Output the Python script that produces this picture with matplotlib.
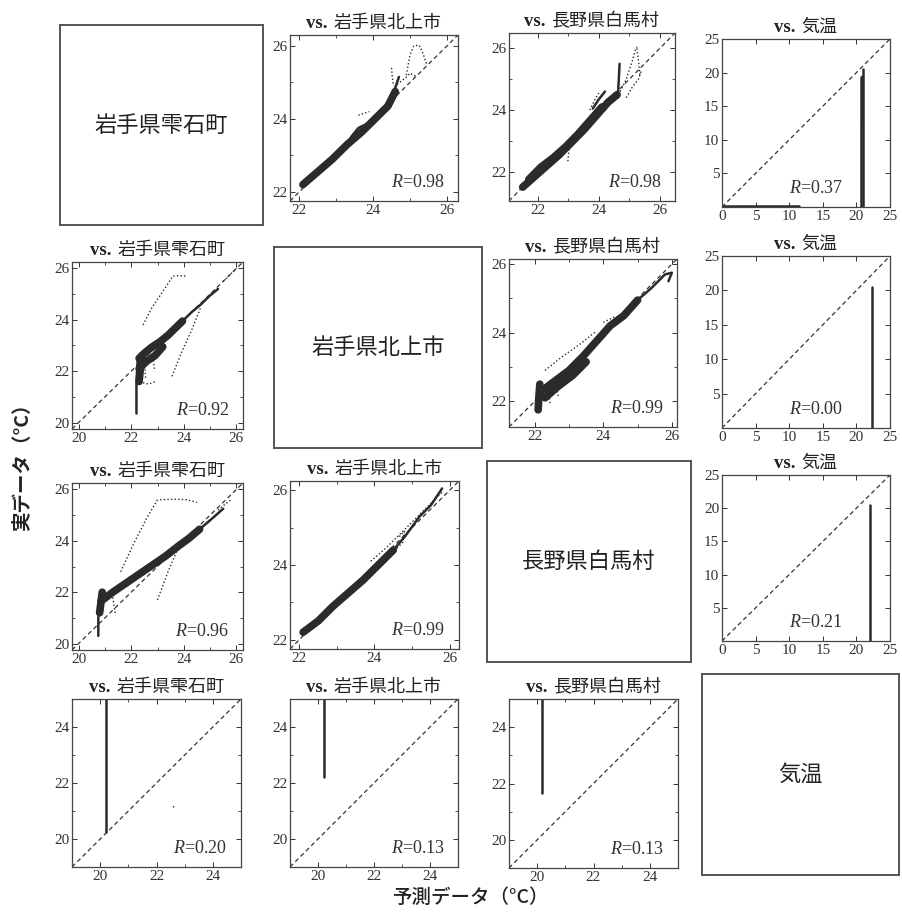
import matplotlib
matplotlib.use('Agg')
import matplotlib.pyplot as plt
from matplotlib.offsetbox import TextArea, HPacker, AnchoredOffsetbox
from matplotlib.ticker import MultipleLocator

plt.rcParams['font.family'] = ['Liberation Serif', 'Noto Sans CJK JP']
plt.rcParams['mathtext.fontset'] = 'custom'
plt.rcParams['mathtext.it'] = 'Liberation Serif:italic'
plt.rcParams['mathtext.rm'] = 'Liberation Serif'
JP = ['Noto Sans CJK JP', 'DejaVu Sans']

W, H = 902, 921
INK = '#2b2b2b'

sites = ['岩手県雫石町', '岩手県北上市', '長野県白馬村', '気温']

# correlation for each (row, col) pair
r_text = {(0, 1): '0.98', (0, 2): '0.98', (0, 3): '0.37',
          (1, 0): '0.92', (1, 2): '0.99', (1, 3): '0.00',
          (2, 0): '0.96', (2, 1): '0.99', (2, 3): '0.21',
          (3, 0): '0.20', (3, 1): '0.13', (3, 2): '0.13'}

# axis ranges
lim_01 = [21.75, 26.3]
lim_02 = [21.05, 26.5]
lim_03 = [0, 25]
lim_10 = [19.75, 26.25]
lim_12 = [21.25, 26.15]
lim_13 = [0, 25]
lim_20 = [19.75, 26.25]
lim_21 = [21.75, 26.25]
lim_23 = [0, 25]
lim_30 = [19, 25]
lim_31 = [19, 25]
lim_32 = [19, 25]

# traced clouds: dense parts ("band"), thinner runs ("thin"), sparse dots ("dots")
band_01 = [([22.1, 22.5, 22.9, 23.3, 23.7, 24.1, 24.4, 24.6],
            [22.2, 22.55, 22.9, 23.3, 23.65, 24.05, 24.35, 24.75])]
thin_01 = [([24.4, 24.55, 24.7], [24.35, 24.7, 25.15]),
           ([23.4, 23.6, 23.8], [23.5, 23.75, 23.85])]
dots_01 = [([24.5, 24.52, 24.55], [25.4, 25.15, 24.9]),
           ([24.9, 25.0, 25.1, 25.25, 25.35, 25.45], [25.2, 25.75, 26.0, 26.02, 25.8, 25.5]),
           ([24.65, 24.85, 25.0, 25.2], [24.95, 25.1, 25.25, 25.15]),
           ([23.6, 23.75, 23.9], [24.1, 24.15, 24.2])]

band_02 = [([21.5, 21.9, 22.3, 22.7, 23.1, 23.5, 23.9, 24.3, 24.6],
            [21.5, 21.85, 22.2, 22.55, 22.95, 23.35, 23.8, 24.25, 24.5]),
           ([21.7, 22.1, 22.5, 22.9, 23.3, 23.7, 24.1],
            [21.75, 22.15, 22.45, 22.8, 23.2, 23.65, 24.1])]
thin_02 = [([24.62, 24.65, 24.68], [24.4, 24.9, 25.5]),
           ([23.8, 24.0, 24.2], [24.05, 24.35, 24.6])]
dots_02 = [([24.7, 24.9, 25.1, 25.2, 25.25], [24.6, 25.0, 25.6, 25.95, 26.05]),
           ([25.25, 25.3, 25.35], [26.0, 25.6, 25.1]),
           ([24.9, 25.1, 25.3, 25.4], [24.4, 24.75, 25.0, 25.3]),
           ([23.05, 23.0, 22.98], [22.85, 22.55, 22.3]),
           ([23.7, 23.9, 24.0], [24.0, 24.4, 24.55])]

band_03 = []
thin_03 = [([20.7, 20.7], [0, 19.3]), ([21.0, 21.0], [0, 20.5]),
           ([20.85, 20.85], [12.5, 19.5]), ([0, 11.5], [0.1, 0.1])]
dots_03 = []

band_10 = [([22.3, 22.5, 22.8, 23.1, 23.4, 23.7, 23.95],
            [22.5, 22.7, 22.95, 23.15, 23.4, 23.7, 23.95]),
           ([22.3, 22.6, 22.9, 23.2], [22.1, 22.4, 22.6, 22.95]),
           ([22.3, 22.35, 22.4], [21.6, 22.1, 22.6])]
thin_10 = [([22.2, 22.2, 22.25], [20.35, 21.5, 22.5]),
           ([23.95, 24.3, 24.65, 25.0, 25.3], [23.95, 24.3, 24.6, 24.95, 25.2])]
dots_10 = [([22.45, 22.8, 23.2, 23.55], [23.8, 24.5, 25.1, 25.65]),
           ([23.6, 23.8, 24.1], [25.7, 25.72, 25.7]),
           ([23.55, 23.9, 24.3, 24.65], [21.8, 22.7, 23.6, 24.5]),
           ([22.45, 22.65, 22.95], [21.55, 21.5, 21.6]),
           ([25.5, 25.8, 26.0], [25.5, 25.8, 26.0]),
           ([22.5, 22.55], [22.5, 21.7]),
           ([22.8, 22.9], [22.7, 22.0])]

band_12 = [([22.1, 22.12, 22.15], [21.75, 22.1, 22.5]),
           ([22.2, 22.6, 23.0, 23.4, 23.8, 24.2, 24.6, 25.0],
            [22.3, 22.6, 22.9, 23.3, 23.75, 24.2, 24.5, 24.95]),
           ([22.3, 22.7, 23.1, 23.5], [22.1, 22.45, 22.75, 23.15])]
thin_12 = [([25.0, 25.4, 25.8, 26.0, 25.9], [24.95, 25.3, 25.7, 25.75, 25.5])]
dots_12 = [([22.3, 22.8, 23.3, 23.8], [22.9, 23.3, 23.65, 24.05]),
           ([24.0, 24.3, 24.6], [24.3, 24.45, 24.5]),
           ([22.4, 22.45], [22.3, 21.9]),
           ([22.6, 22.7], [22.5, 22.1])]

band_13 = []
thin_13 = [([22.3, 22.3], [0, 20.5])]
dots_13 = []

band_20 = [([20.85, 21.3, 21.8, 22.3, 22.8, 23.3, 23.8, 24.2, 24.6],
            [21.65, 22.0, 22.35, 22.7, 23.05, 23.4, 23.8, 24.1, 24.45]),
           ([20.8, 20.85, 20.9], [21.2, 21.6, 22.0])]
thin_20 = [([20.75, 20.75, 20.8], [20.3, 21.0, 21.6]),
           ([24.6, 25.0, 25.5], [24.45, 24.8, 25.25])]
dots_20 = [([21.6, 22.1, 22.6, 23.0], [22.8, 23.9, 24.9, 25.6]),
           ([23.1, 23.6, 24.1, 24.5], [25.6, 25.62, 25.6, 25.5]),
           ([23.0, 23.4, 23.9], [21.7, 22.8, 24.0]),
           ([21.3, 21.4], [21.8, 21.1]),
           ([25.3, 25.6, 25.8], [25.2, 25.45, 25.6])]

band_21 = [([22.1, 22.5, 22.9, 23.3, 23.7, 24.1, 24.5],
            [22.2, 22.5, 22.9, 23.25, 23.6, 24.0, 24.4])]
thin_21 = [([24.5, 24.8, 25.2, 25.5, 25.8], [24.4, 24.75, 25.3, 25.6, 26.05])]
dots_21 = [([23.9, 24.3, 24.7, 25.1, 25.5, 25.8], [24.1, 24.45, 24.85, 25.25, 25.65, 25.95]),
           ([24.6, 24.75, 24.8, 24.65], [24.45, 24.6, 24.9, 24.75])]

band_23 = []
thin_23 = [([22.0, 22.0], [0, 20.5])]
dots_23 = []

band_30 = []
thin_30 = [([20.22, 20.22], [20.25, 25.0])]
dots_30 = [([22.6, 22.6], [21.15, 21.25])]

band_31 = []
thin_31 = [([20.2, 20.2], [22.2, 25.0])]
dots_31 = []

band_32 = []
thin_32 = [([20.18, 20.18], [21.67, 25.0])]
dots_32 = []

panels = {
    (0, 1): (lim_01, band_01, thin_01, dots_01),
    (0, 2): (lim_02, band_02, thin_02, dots_02),
    (0, 3): (lim_03, band_03, thin_03, dots_03),
    (1, 0): (lim_10, band_10, thin_10, dots_10),
    (1, 2): (lim_12, band_12, thin_12, dots_12),
    (1, 3): (lim_13, band_13, thin_13, dots_13),
    (2, 0): (lim_20, band_20, thin_20, dots_20),
    (2, 1): (lim_21, band_21, thin_21, dots_21),
    (2, 3): (lim_23, band_23, thin_23, dots_23),
    (3, 0): (lim_30, band_30, thin_30, dots_30),
    (3, 1): (lim_31, band_31, thin_31, dots_31),
    (3, 2): (lim_32, band_32, thin_32, dots_32),
}

# pixel boxes (left, top, right, bottom)
ax_px = {
    (0, 1): (290, 35, 458, 201), (0, 2): (509, 33, 675, 201), (0, 3): (722, 39, 890, 207),
    (1, 0): (72, 262, 243, 429), (1, 2): (509, 259, 677, 427), (1, 3): (722, 256, 890, 428),
    (2, 0): (72, 483, 243, 650), (2, 1): (290, 481, 459, 649), (2, 3): (722, 475, 890, 641),
    (3, 0): (72, 699, 241, 867), (3, 1): (290, 699, 458, 867), (3, 2): (509, 699, 678, 868),
}
box_px = {0: (60, 25, 263, 225), 1: (274, 247, 482, 448),
          2: (487, 461, 691, 662), 3: (702, 674, 899, 875)}


def rect(px):
    l, t, r, b = px
    return [l / W, 1 - b / H, (r - l) / W, (b - t) / H]


def panel_title(ax, name):
    vs = TextArea('vs.', textprops=dict(family='Liberation Serif', weight='bold', size=13.5, color='#222'))
    nm = TextArea(name, textprops=dict(family=JP, size=13, color='#222'))
    pack = HPacker(children=[vs, nm], align='baseline', pad=0, sep=4)
    anc = AnchoredOffsetbox(loc='lower center', child=pack, frameon=False,
                            bbox_to_anchor=(0.5, 1.0), bbox_transform=ax.transAxes,
                            borderpad=0.2, pad=0)
    ax.add_artist(anc)


fig = plt.figure(figsize=(W / 100, H / 100), dpi=100)

for (i, j), (lim, band, thin, dots) in panels.items():
    ax = fig.add_axes(rect(ax_px[(i, j)]))
    ax.plot(lim, lim, ls=(0, (3.5, 2.5)), color='#333', lw=0.9)
    for xs, ys in band:
        ax.plot(xs, ys, color=INK, lw=5.5, solid_capstyle='round', solid_joinstyle='round')
    for xs, ys in thin:
        ax.plot(xs, ys, color=INK, lw=1.8, solid_capstyle='round')
    for xs, ys in dots:
        ax.plot(xs, ys, color=INK, lw=1.0, ls=(0, (1, 1.6)))
    ax.set_xlim(lim)
    ax.set_ylim(lim)
    air = lim[0] == 0
    if air:
        ax.xaxis.set_major_locator(MultipleLocator(5))
        ax.set_yticks([5, 10, 15, 20, 25])
    else:
        ax.xaxis.set_major_locator(MultipleLocator(2))
        ax.yaxis.set_major_locator(MultipleLocator(2))
        ax.xaxis.set_minor_locator(MultipleLocator(1))
        ax.yaxis.set_minor_locator(MultipleLocator(1))
    ax.tick_params(which='both', direction='in', top=True, right=True,
                   labelsize=11, colors='#333', pad=2)
    ax.tick_params(which='major', length=3.5, width=0.7)
    ax.tick_params(which='minor', length=2, width=0.6)
    for s in ax.spines.values():
        s.set_color('#444')
        s.set_linewidth(0.9)
    ax.text(0.72 if air else 0.92, 0.06, '$R$=' + r_text[(i, j)], transform=ax.transAxes,
            ha='right', va='bottom', fontsize=13, color='#333',
            family='Liberation Serif')
    panel_title(ax, sites[j])

for k, px in box_px.items():
    ax = fig.add_axes(rect(px))
    ax.set_xticks([])
    ax.set_yticks([])
    for s in ax.spines.values():
        s.set_color('#555')
        s.set_linewidth(1.4)
    ax.text(0.5, 0.5, sites[k], transform=ax.transAxes, ha='center', va='center',
            fontsize=16, family=JP, color='#222')

fig.text(22 / W, 1 - 462 / H, '実データ（°C）', rotation=90, ha='center', va='center',
         fontsize=14, family=JP, weight='bold', color='#222')
fig.text(470 / W, 1 - 897 / H, '予測データ（°C）', ha='center', va='center',
         fontsize=14, family=JP, weight='medium', color='#222')

fig.savefig('out.png', dpi=100)
